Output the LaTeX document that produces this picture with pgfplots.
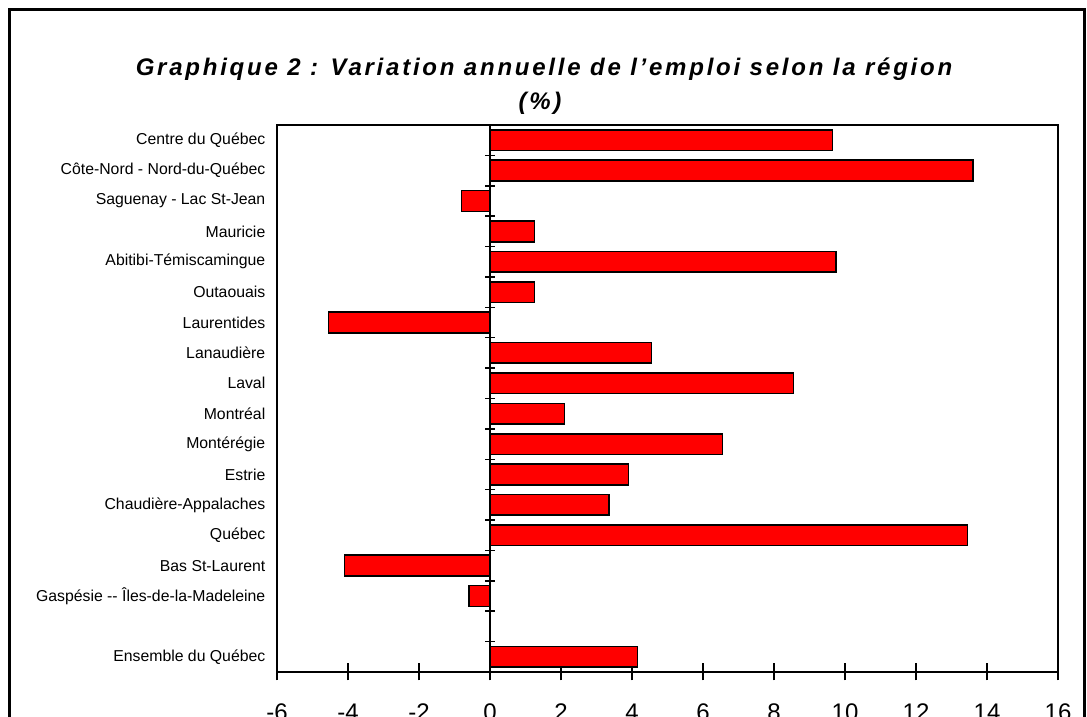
\documentclass[border=0pt]{standalone}
\usepackage{fontspec}
\setmainfont{Liberation Sans}
\usepackage{pgfplots}
\pgfplotsset{compat=1.18}
\definecolor{barred}{RGB}{255,0,0}
\begin{document}
\begin{tikzpicture}[x=1pt,y=1pt]
\draw[line width=3pt] (9.5,-20) -- (9.5,707.5) -- (1084,707.5) -- (1084,-20);
\node[anchor=base, inner sep=0pt, font=\bfseries\itshape\fontsize{24}{28}\selectfont\addfontfeatures{LetterSpace=11.5}] at (544,641) {Graphique 2 : Variation annuelle de l'emploi selon la région};
\node[anchor=base, inner sep=0pt, font=\bfseries\itshape\fontsize{24}{28}\selectfont\addfontfeatures{LetterSpace=11.5}] at (540,607) {(\%)};
\begin{axis}[
  at={(277pt,45pt)}, anchor=south west,
  scale only axis, width=781pt, height=547pt,
  xmin=-6, xmax=16, ymin=-0.5, ymax=17.5,
  xbar, bar width=20.7pt,
  xtick={-6,-4,...,16},
  xticklabels={-6,-4,-2,0,2,4,6,8,10,12,14,16},
  ytick={0,...,17},
  yticklabels={Ensemble du Québec,,Gaspésie -{}- Îles-de-la-Madeleine,Bas St-Laurent\hspace{3.5pt},Québec,Chaudière-Appalaches,Estrie,Montérégie,Montréal\hspace{3.5pt},Laval\hspace{2.5pt},Lanaudière,Laurentides,Outaouais,Abitibi-Témiscamingue,Mauricie\hspace{6.5pt},Saguenay - Lac St-Jean,Côte-Nord - Nord-du-Québec,Centre du Québec},
  xtick pos=left,
  tick align=center,
  major tick length=17pt,
  xtick style={line width=1.5pt, black},
  ytick style={draw=none},
  axis line style={line width=2pt},
  xticklabel style={font=\fontsize{24}{24}\selectfont, inner sep=0pt, anchor=north, yshift=-23pt},
  yticklabel style={font=\fontsize{15.8}{17}\selectfont, inner sep=0pt, anchor=east, xshift=-3pt},
  clip=false,
]
\addplot[fill=barred, draw=black, line width=1.6pt] coordinates {
(4.15,0) (-0.6,2) (-4.1,3) (13.45,4) (3.35,5) (3.9,6) (6.55,7) (2.1,8) (8.55,9) (4.55,10) (-4.55,11) (1.25,12) (9.75,13) (1.25,14) (-0.8,15) (13.6,16) (9.65,17)};
\draw[line width=2pt] (axis cs:0,-0.5) -- (axis cs:0,17.5);
\pgfplotsinvokeforeach{0,...,16}{
  \draw[line width=1.5pt] ([xshift=-5pt]axis cs:0,#1+0.5) -- ([xshift=5pt]axis cs:0,#1+0.5);
}
\end{axis}
\pgfresetboundingbox
\path[use as bounding box] (0,0) rectangle (1087,717);
\end{tikzpicture}
\end{document}
